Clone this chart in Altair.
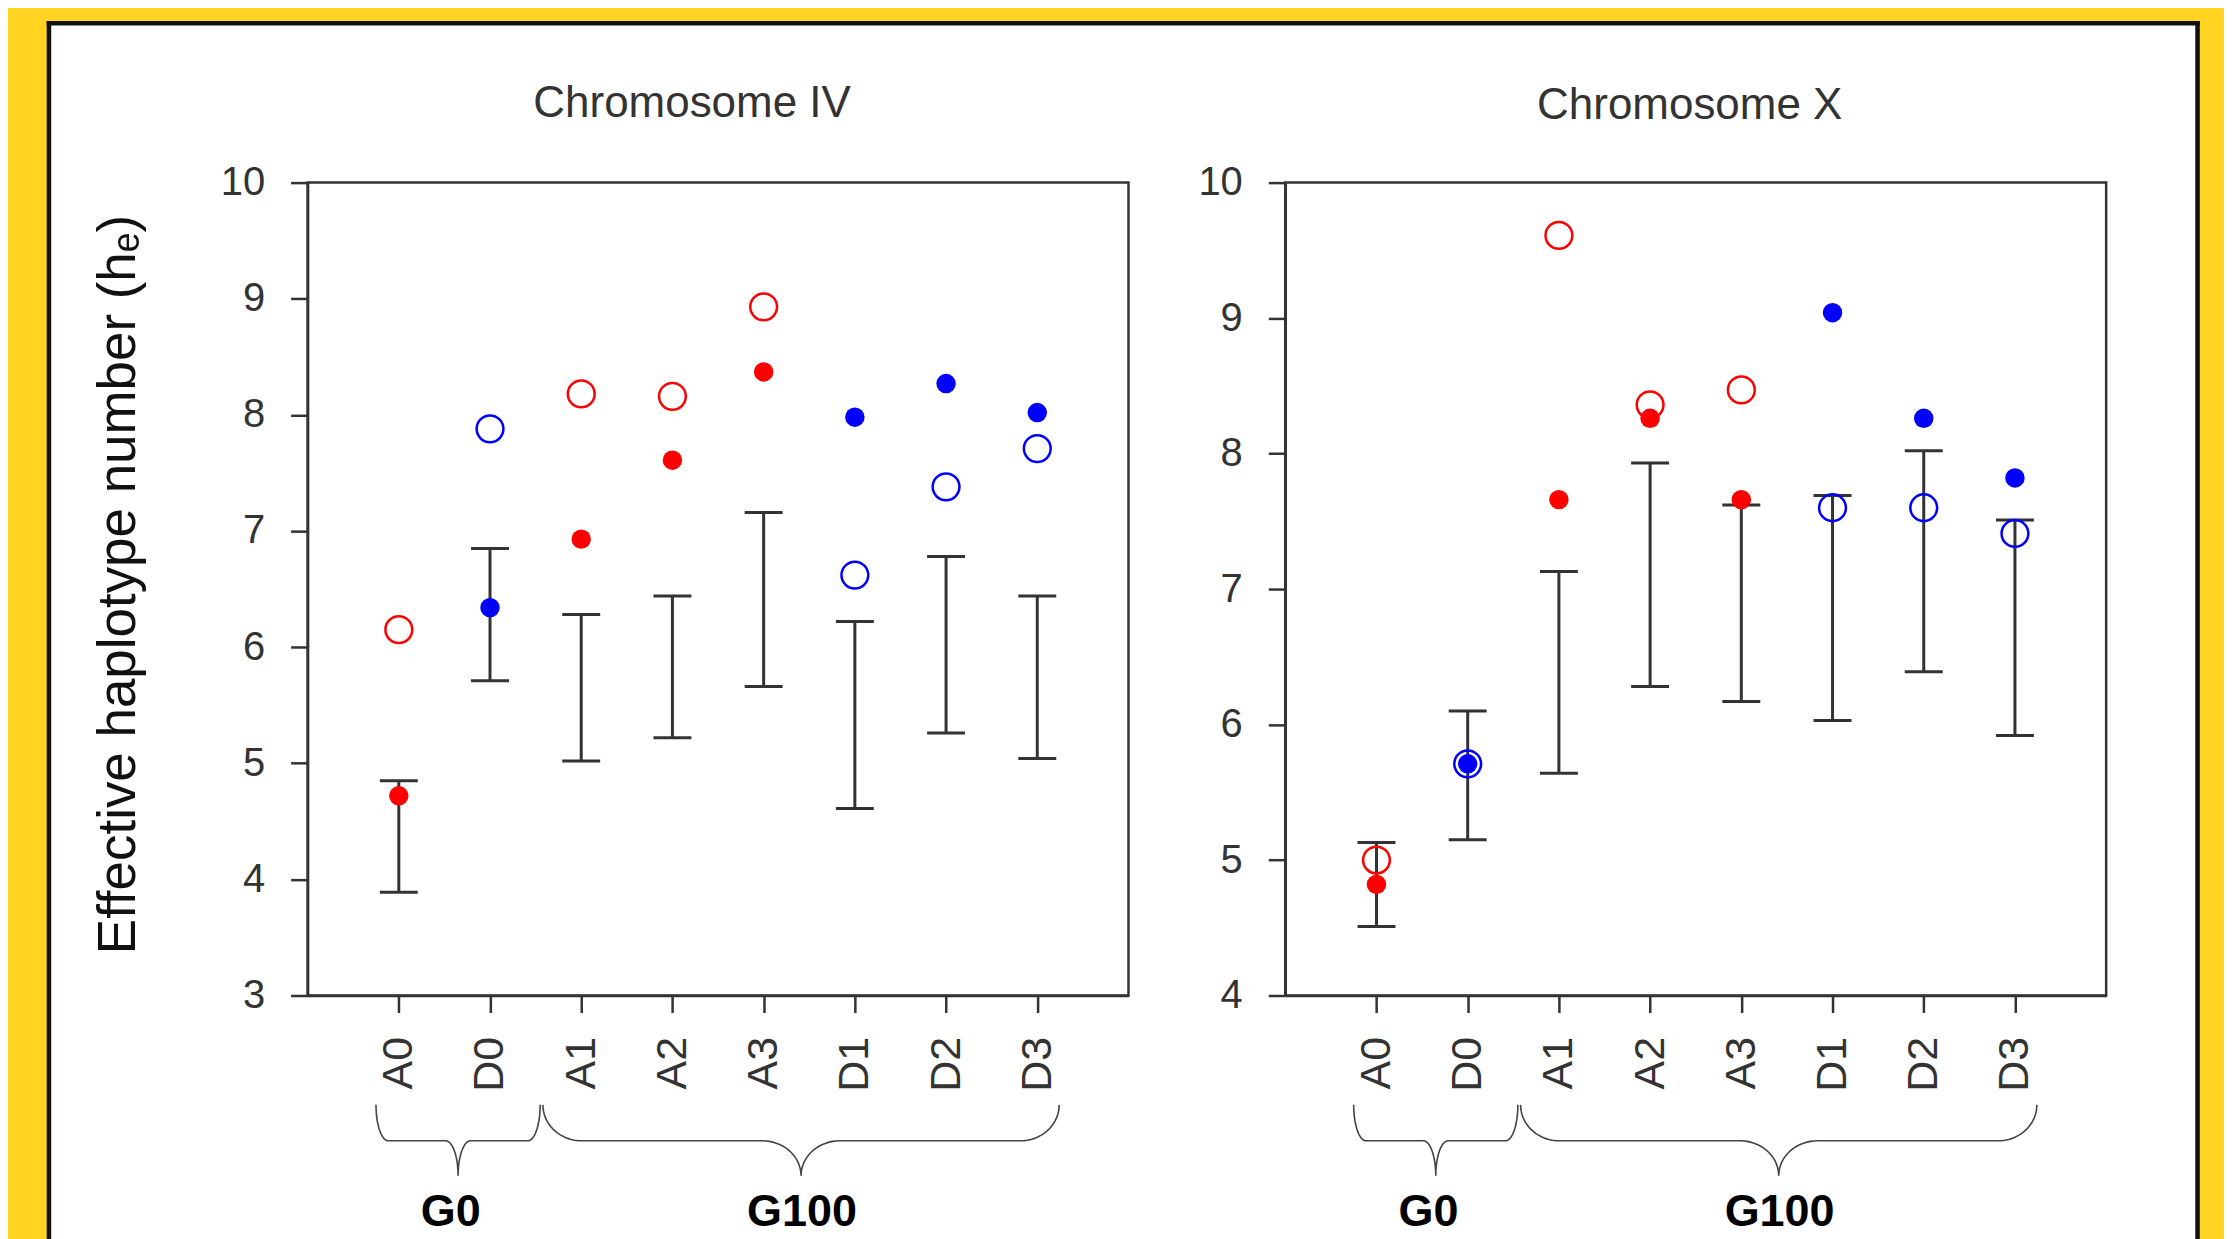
import json
import altair as alt
import numpy as np
import pandas as pd

# ---------------- data ----------------
categories = ["A0", "D0", "A1", "A2", "A3", "D1", "D2", "D3"]
groups = ["A", "D", "A", "A", "A", "D", "D", "D"]
positions = [1, 2, 3, 4, 5, 6, 7, 8]

# Chromosome IV
iv_open = [6.15, 7.88, 8.18, 8.16, 8.93, 6.62, 7.38, 7.71]
iv_filled = [4.72, 6.34, 6.93, 7.61, 8.37, 7.98, 8.27, 8.02]
iv_low = [3.89, 5.71, 5.02, 5.22, 5.66, 4.61, 5.26, 5.04]
iv_high = [4.85, 6.85, 6.28, 6.44, 7.16, 6.22, 6.78, 6.44]

# Chromosome X
x_open = [5.00, 5.71, 9.61, 8.36, 8.47, 7.60, 7.60, 7.41]
x_filled = [4.82, 5.71, 7.66, 8.26, 7.66, 9.04, 8.26, 7.82]
x_low = [4.51, 5.15, 5.64, 6.28, 6.17, 6.03, 6.39, 5.92]
x_high = [5.13, 6.10, 7.13, 7.93, 7.62, 7.69, 8.02, 7.51]

# generation braces (in x-axis units)
brace_names = ["G0", "G100"]
brace_start = [0.75, 2.58]
brace_end = [2.55, 8.24]
brace_tip = [1.65, 5.41]
brace_label_pos = [1.57, 5.42]

# ---------------- style ----------------
W, H = 822, 814
FONT = "Liberation Sans"
INK = "#333333"
RED = "#FF0000"
BLUE = "#0000FF"
YELLOW = "#FFD320"

dummy = pd.DataFrame({"k": [0]})


def brace_frame():
    rows = []
    yt, ym, yp = 923.5, 959.5, 994.5
    t = np.linspace(0, np.pi / 2, 18)
    tr = t[::-1]
    for name, s, e, c in zip(brace_names, brace_start, brace_end, brace_tip):
        r = 0.075 * (e - s)
        xs = np.concatenate([
            s + r * (1 - np.cos(t)),
            c - r + r * np.sin(t),
            c + r - r * np.sin(tr),
            e - r * (1 - np.cos(tr)),
        ])
        ys = np.concatenate([
            yt + (ym - yt) * np.sin(t),
            ym + (yp - ym) * (1 - np.cos(t)),
            ym + (yp - ym) * (1 - np.cos(tr)),
            yt + (ym - yt) * np.sin(tr),
        ])
        for i, (bx, by) in enumerate(zip(xs, ys)):
            rows.append({"brace": name, "ord": i, "bx": float(bx), "by": float(by)})
    return pd.DataFrame(rows)


def panel(open_v, filled_v, low_v, high_v, ymin, title_text, title_x, title_y,
          y_title=None, frame=False):
    df = pd.DataFrame({
        "pos": positions, "cat": categories, "grp": groups,
        "open": open_v, "filled": filled_v, "lo": low_v, "hi": high_v,
    })
    label_expr = json.dumps(categories) + "[datum.value - 1]"
    x_scale = alt.Scale(domain=[0, 9], nice=False, zero=False)
    x_axis = alt.Axis(values=positions, labelExpr=label_expr, labelAngle=-90,
                      labelFontSize=43, labelPadding=24, labelFont=FONT,
                      labelColor=INK, labelFlush=False, labelOverlap=False,
                      tickSize=17, tickWidth=2.5, tickColor=INK,
                      domainColor=INK, domainWidth=2.5, grid=False,
                      title=None, zindex=1)
    y_scale = alt.Scale(domain=[ymin, 10], nice=False, zero=False)
    y_kw = dict(values=list(range(ymin, 11)), labelFontSize=40, labelPadding=26,
                labelFont=FONT, labelColor=INK, labelFlush=False,
                labelOverlap=False, tickSize=17, tickWidth=2.5, tickColor=INK,
                domainColor=INK, domainWidth=2.5, grid=False, zindex=1)
    if y_title:
        y_axis = alt.Axis(title=y_title, titleFont=FONT, titleFontSize=53,
                          titleFontWeight="normal", titleColor="#111111",
                          titleX=-173, titleY=402, titleAngle=270,
                          titleAlign="center", titleBaseline="alphabetic", **y_kw)
    else:
        y_axis = alt.Axis(title=None, **y_kw)

    def X(field):
        return alt.X(f"{field}:Q", scale=x_scale, axis=x_axis)

    def Y(field):
        return alt.Y(f"{field}:Q", scale=y_scale, axis=y_axis)

    color = alt.Color("grp:N", scale=alt.Scale(domain=["A", "D"], range=[RED, BLUE]),
                      legend=None)

    layers = []
    if frame:
        L, T, R, B = -259, -159.5, 1892.5, 1070
        layers.append(alt.Chart(dummy).mark_rect(fill="white", strokeWidth=0).encode(
            x=alt.value(L), x2=alt.value(R), y=alt.value(T), y2=alt.value(B)))
        fr = dict(color="#111111", strokeWidth=4.5, strokeCap="square")
        layers.append(alt.Chart(dummy).mark_rule(**fr).encode(
            x=alt.value(L), y=alt.value(T), y2=alt.value(B)))
        layers.append(alt.Chart(dummy).mark_rule(**fr).encode(
            x=alt.value(L), x2=alt.value(R), y=alt.value(T)))
        layers.append(alt.Chart(dummy).mark_rule(**fr).encode(
            x=alt.value(R), y=alt.value(T), y2=alt.value(B)))

    # plot box
    layers.append(alt.Chart(dummy).mark_rect(fillOpacity=0, stroke=INK, strokeWidth=2.5).encode(
        x=alt.value(0), x2=alt.value(W), y=alt.value(0), y2=alt.value(H)))

    base = alt.Chart(df)
    layers.append(base.mark_rule(color=INK, strokeWidth=3).encode(
        x=X("pos"), y=Y("lo"), y2=alt.Y2("hi:Q")))
    layers.append(base.mark_tick(orient="horizontal", size=38, thickness=3, color=INK,
                                 opacity=1).encode(x=X("pos"), y=Y("lo")))
    layers.append(base.mark_tick(orient="horizontal", size=38, thickness=3, color=INK,
                                 opacity=1).encode(x=X("pos"), y=Y("hi")))
    layers.append(base.mark_point(shape="circle", filled=False, size=720, strokeWidth=2.5,
                                  opacity=1).encode(x=X("pos"), y=Y("open"), color=color))
    layers.append(base.mark_circle(size=380, opacity=1).encode(
        x=X("pos"), y=Y("filled"), color=color))

    # braces and generation labels
    layers.append(alt.Chart(brace_frame()).mark_line(color="#444444", strokeWidth=1.6).encode(
        x=X("bx"), y=alt.Y("by:Q", scale=None, axis=None),
        detail="brace:N", order="ord:Q"))
    lab = pd.DataFrame({"lx": brace_label_pos, "label": brace_names})
    layers.append(alt.Chart(lab).mark_text(font=FONT, fontSize=45, fontWeight="bold",
                                           color="#000000", baseline="alphabetic",
                                           align="center").encode(
        x=X("lx"), y=alt.value(1045), text="label:N"))

    # panel title
    layers.append(alt.Chart(dummy).mark_text(font=FONT, fontSize=44, color=INK,
                                             baseline="alphabetic", align="center").encode(
        x=alt.value(title_x), y=alt.value(title_y), text=alt.value(title_text)))

    return alt.layer(*layers).resolve_scale(y="shared").properties(width=W, height=H)


left = panel(iv_open, iv_filled, iv_low, iv_high, 3, "Chromosome IV", 385, -65.8,
             y_title="Effective haplotype number (h\u2091)", frame=True)
right = panel(x_open, x_filled, x_low, x_high, 4, "Chromosome X", 405, -64)

chart = alt.hconcat(left, right, spacing=157, bounds="flush").properties(
    padding={"left": 37, "top": 10, "right": 22, "bottom": 0},
    background=YELLOW,
).configure_view(stroke="transparent")

chart.save("out.html", embed_options={"renderer": "svg", "actions": False})
